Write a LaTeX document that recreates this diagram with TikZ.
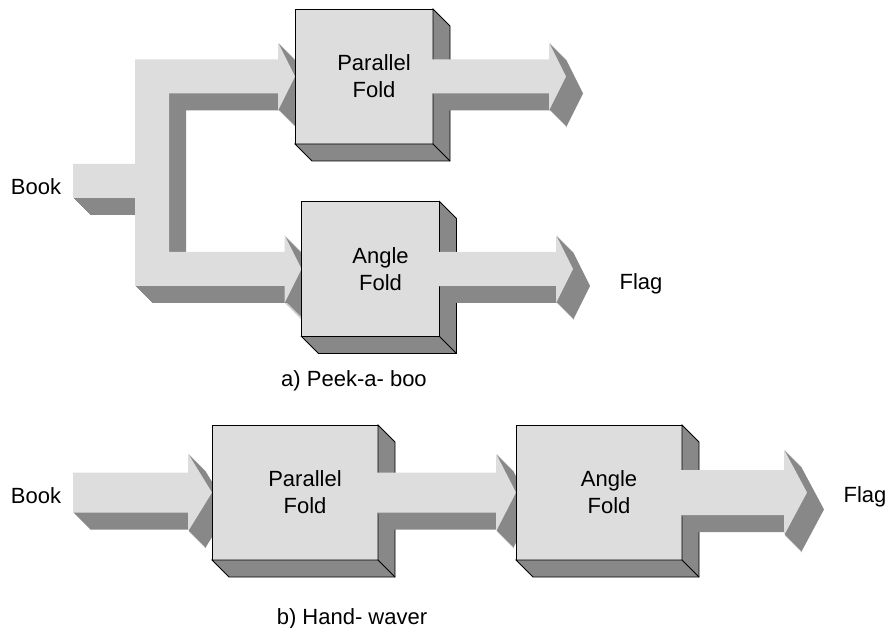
\documentclass[tikz,border=0pt]{standalone}
\usepackage{fontspec}
\setmainfont{Liberation Sans}
\usetikzlibrary{calc}
\definecolor{Face}{HTML}{DDDDDD}
\definecolor{Shade}{HTML}{888888}
\newcommand{\dep}{17}
\tikzset{
  boxframe/.style={inner sep=0pt,outer sep=0pt},
  boxtext/.style={align=center,font=\fontsize{22}{27}\selectfont},
  lbl/.style={anchor=base,font=\fontsize{22}{27}\selectfont},
}
% solid with its depth swept down-right
\newcommand{\solid}[1]{%
  \foreach \s in {1,...,\dep}
    \fill[Shade,transform canvas={shift={(\s pt,-\s pt)}}] #1;
  \fill[Face] #1;}
% tail, tip, band half width, head half width, head length
\newcommand{\fatarrow}[5]{%
  \solid{let \p1=(#1), \p2=(#2) in (\x1,\y1+#3) -- (\x2-#5,\y1+#3) -- (\x2-#5,\y1+#4) -- (\x2,\y1)
    -- (\x2-#5,\y1-#4) -- (\x2-#5,\y1-#3) -- (\x1,\y1-#3) -- cycle}}
% frame node, label
\newcommand{\foldbox}[2]{%
  \filldraw[fill=Face] (#1.south west) rectangle (#1.north east);
  \filldraw[fill=Shade] (#1.north east) -- ++(\dep,-\dep) |- ([shift={(\dep,-\dep)}]#1.south west)
    -- (#1.south west) -- (#1.south east) -- cycle;
  \draw (#1.south east) -- ++(\dep,-\dep);
  \node[boxtext] (#1t) at ([xshift=10pt]#1.center) {#2};}

\begin{document}
\begin{tikzpicture}[x=1pt,y=1pt,line width=.8pt]
  \useasboundingbox (0,0) rectangle (887,-628);
  % a) peek-a-boo
  \node[boxframe,minimum width=138pt,minimum height=135pt] (pf1) at (364,-76.5) {};
  \node[boxframe,minimum width=138pt,minimum height=135pt] (af1) at (370.5,-269) {};
  \node[lbl] (book1) at (36,-195) {Book};
  \node[lbl] (flag1) at (641,-290) {Flag};
  \node[lbl] (capa) at (354,-387) {a) Peek-a- boo};
  \coordinate (bk1) at (73,-181);
  \coordinate (split) at (152,-181);
  \coordinate (pf1o) at (566,-76.5);
  \coordinate (af1o) at (573,-269);
  \solid{let \p1=(bk1), \p2=(pf1.west), \p3=(af1.west), \p4=(split) in
    (\x1,\y1+17) -| (\x4-17,\y2+17) -- (\x2-17,\y2+17) -- (\x2-17,\y2+34) -- (\x2,\y2)
    -- (\x2-17,\y2-34) -- (\x2-17,\y2-17) -- (\x4+17,\y2-17) |- (\x3-17,\y3+17)
    -- (\x3-17,\y3+34) -- (\x3,\y3) -- (\x3-17,\y3-34) -- (\x3-17,\y3-17)
    -| (\x4-17,\y1-17) -- (\x1,\y1-17) -- cycle}
  \foldbox{pf1}{Parallel\\Fold}
  \foldbox{af1}{Angle\\Fold}
  \fatarrow{[xshift=-1pt]pf1.east}{pf1o}{17}{34}{17}
  \fatarrow{[xshift=-1pt]af1.east}{af1o}{17}{34}{17}
  % b) hand-waver
  \node[boxframe,minimum width=166pt,minimum height=135pt] (pf2) at (295,-492.5) {};
  \node[boxframe,minimum width=166pt,minimum height=135pt] (af2) at (599,-492.5) {};
  \node[lbl] (book2) at (36,-503) {Book};
  \node[lbl] (flag2) at (865,-502) {Flag};
  \node[lbl] (capb) at (352,-624) {b) Hand- waver};
  \coordinate (bk2) at (73,-492.5);
  \coordinate (af2o) at (807,-492.5);
  \fatarrow{bk2}{pf2.west}{20}{39}{24}
  \foldbox{pf2}{Parallel\\Fold}
  \fatarrow{[xshift=-1pt]pf2.east}{af2.west}{20}{39}{20}
  \foldbox{af2}{Angle\\Fold}
  \fatarrow{[xshift=-1pt]af2.east}{af2o}{22.5}{43}{23}
\end{tikzpicture}
\end{document}
